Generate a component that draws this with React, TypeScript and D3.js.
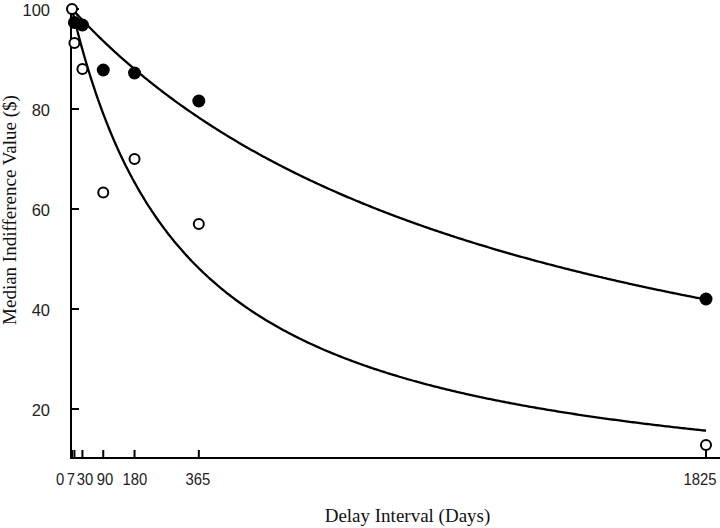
import React from "react";
import * as d3 from "d3";

const delays = [0, 7, 30, 90, 180, 365, 1825];
const filledDays = [7, 30, 90, 180, 365, 1825];
const filledValues = [97.3, 96.8, 87.8, 87.2, 81.6, 42];
const openDays = [0, 7, 30, 90, 180, 365, 1825];
const openValues = [100, 93.2, 88, 63.3, 70, 57, 12.8];
const yTicks = [20, 40, 60, 80, 100];
const xTickLabels = ["0", "7", "30", "90", "180", "365", "1825"];
const kFilled = 0.00076;
const kOpen = 0.00295;

const W = 720;
const H = 528;
const x0 = 72;
const xEnd = 706;
const yTop = 9;
const yBottom = 458;

export default function App() {
  const x = d3.scaleLinear().domain([0, 1825]).range([x0, xEnd]);
  const y = d3.scaleLinear().domain([10.2, 100]).range([yBottom, yTop]);
  const grid = d3.range(0, 1826, 5);
  const line = d3
    .line<number>()
    .x((d) => x(d))
    .curve(d3.curveLinear);
  const upper = line.y((d) => y(100 / (1 + kFilled * d)))(grid) || "";
  const lower = line.y((d) => y(100 / (1 + kOpen * d)))(grid) || "";
  const labelDx = [-12, -3.5, 2.6, 1.7, 0.4, -1, -6];
  return (
    <svg
      width={W}
      height={H}
      style={{ position: "absolute", left: 0, top: 0, background: "#fff" }}
    >
      <rect width={W} height={H} fill="#fff" />
      {/* axes */}
      <line x1={x0 - 1} x2={720} y1={yBottom} y2={yBottom} stroke="#000" strokeWidth={2} />
      <line x1={x0 - 1} x2={x0 - 1} y1={yBottom + 1} y2={7} stroke="#000" strokeWidth={2} />
      {yTicks.map((t) => (
        <g key={t}>
          <line x1={x0 - 1} x2={x0 + 7} y1={y(t)} y2={y(t)} stroke="#000" strokeWidth={2} />
          <text
            x={50}
            y={y(t) + 1}
            textAnchor="end"
            dominantBaseline="central"
            fontFamily="Liberation Sans, Arial, sans-serif"
            fontSize={16.5}
            fill="#222"
          >
            {t}
          </text>
        </g>
      ))}
      {delays.map((d, i) => (
        <g key={d}>
          <line x1={x(d)} x2={x(d)} y1={yBottom} y2={yBottom - 8} stroke="#000" strokeWidth={2} />
          <text
            transform={`translate(${x(d) + labelDx[i]}, 479) scale(0.9, 1)`}
            textAnchor="middle"
            dominantBaseline="central"
            fontFamily="Liberation Sans, Arial, sans-serif"
            fontSize={16.5}
            fill="#222"
          >
            {xTickLabels[i]}
          </text>
        </g>
      ))}
      {/* curves */}
      <path d={upper} fill="none" stroke="#000" strokeWidth={2.3} />
      <path d={lower} fill="none" stroke="#000" strokeWidth={2.3} />
      {/* points */}
      {openDays.map((d, i) => (
        <circle
          key={"o" + d}
          cx={x(d)}
          cy={y(openValues[i])}
          r={5}
          fill="#fff"
          stroke="#000"
          strokeWidth={2}
        />
      ))}
      {filledDays.map((d, i) => (
        <circle key={"f" + d} cx={x(d)} cy={y(filledValues[i])} r={6.5} fill="#000" />
      ))}
      {/* axis titles */}
      <text
        x={407.5}
        y={522}
        textAnchor="middle"
        fontFamily="Liberation Serif, Times New Roman, serif"
        fontSize={19}
        fill="#111"
      >
        Delay Interval (Days)
      </text>
      <text
        transform={`translate(16, 210) rotate(-90)`}
        textAnchor="middle"
        fontFamily="Liberation Serif, Times New Roman, serif"
        fontSize={19}
        fill="#111"
      >
        Median Indifference Value ($)
      </text>
    </svg>
  );
}
